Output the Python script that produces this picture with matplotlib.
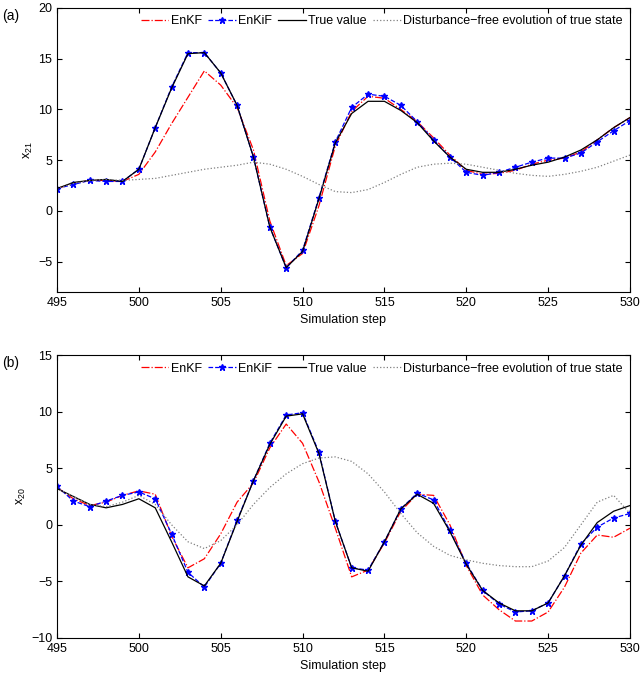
import matplotlib
matplotlib.use("Agg")
import matplotlib.pyplot as plt
import numpy as np

steps = list(range(495, 531))
true_a = [2.2,2.8,3.0,3.1,2.9,4.1,8.2,12.1,15.5,15.6,13.6,10.4,5.3,-1.6,-5.6,-4.0,1.2,6.7,9.6,10.8,10.8,9.9,8.7,6.9,5.3,4.1,3.8,3.8,4.1,4.5,4.8,5.3,6.0,7.0,8.2,9.2]
enkif_a = [2.2,2.6,3.0,2.9,2.9,4.1,8.2,12.2,15.6,15.6,13.6,10.4,5.3,-1.6,-5.6,-3.9,1.3,6.8,10.2,11.5,11.3,10.4,8.8,7.0,5.3,3.8,3.5,3.8,4.3,4.8,5.2,5.2,5.7,6.8,7.9,8.9]
enkf_a = [2.2,2.7,3.0,3.0,2.9,3.6,5.8,8.6,11.2,13.8,12.4,10.2,6.0,-1.0,-5.4,-4.2,0.5,6.4,9.8,11.3,11.1,10.0,8.8,7.2,5.5,4.0,3.6,3.7,4.0,4.6,5.0,5.2,5.8,7.0,8.2,9.2]
free_a = [2.2,2.7,3.0,3.1,3.0,3.1,3.2,3.5,3.8,4.1,4.3,4.5,4.8,4.6,4.1,3.4,2.6,1.9,1.8,2.1,2.8,3.6,4.3,4.6,4.7,4.6,4.3,4.0,3.7,3.5,3.4,3.6,3.9,4.3,4.9,5.5]

true_b = [3.2,2.5,1.8,1.5,1.8,2.3,1.5,-1.5,-4.6,-5.4,-3.4,0.3,3.9,7.1,9.6,9.8,6.3,0.3,-3.8,-4.1,-1.5,1.4,2.7,1.9,-0.6,-3.5,-5.8,-6.9,-7.6,-7.6,-6.9,-4.5,-1.8,0.2,1.2,1.7]
enkif_b = [3.4,2.1,1.6,2.1,2.6,2.9,2.3,-0.8,-4.2,-5.5,-3.4,0.4,3.9,7.2,9.7,9.9,6.4,0.3,-3.8,-4.0,-1.5,1.4,2.8,2.2,-0.5,-3.4,-5.8,-7.0,-7.7,-7.6,-6.9,-4.5,-1.7,-0.2,0.6,1.0]
enkf_b = [3.3,2.3,1.7,2.0,2.6,3.0,2.7,-1.0,-3.8,-3.0,-0.8,2.0,3.7,6.8,8.9,7.2,3.8,-0.3,-4.6,-4.0,-1.6,1.2,2.7,2.6,0.0,-3.6,-6.2,-7.5,-8.5,-8.5,-7.7,-5.5,-2.5,-0.9,-1.1,-0.3]
free_b = [3.2,2.5,1.8,1.6,2.0,2.6,1.8,0.0,-1.5,-2.1,-1.4,0.0,1.8,3.3,4.5,5.4,5.9,6.0,5.6,4.5,2.9,1.0,-0.7,-1.9,-2.7,-3.1,-3.4,-3.6,-3.7,-3.7,-3.2,-2.0,0.0,2.0,2.6,1.0]

plt.rcParams['font.family'] = ['Liberation Sans', 'DejaVu Sans']
fig = plt.figure(figsize=(6.41, 6.75), dpi=100)
W, H = 641, 675
panels = [
    (8, 292, true_a, enkif_a, enkf_a, free_a, (-8, 20), [-5,0,5,10,15,20], '$\\mathregular{x_{21}}$', '(a)'),
    (355, 638, true_b, enkif_b, enkf_b, free_b, (-10, 15), [-10,-5,0,5,10,15], '$\\mathregular{x_{20}}$', '(b)'),
]
for top, bot, tr, ki, kf, fr, ylim, yt, ylab, tag in panels:
    ax = fig.add_axes([57/W, 1-bot/H, (630-57)/W, (bot-top)/H])
    ax.plot(steps, kf, color='red', ls='-.', lw=0.9, label='EnKF')
    ax.plot(steps, ki, color='blue', ls='--', lw=0.9, marker='*', ms=5, label='EnKiF')
    ax.plot(steps, tr, color='black', ls='-', lw=0.9, label='True value')
    ax.plot(steps, fr, color='gray', ls=':', lw=0.9, label='Disturbance\u2212free evolution of true state')
    ax.set_xlim(495, 530)
    ax.set_ylim(*ylim)
    ax.set_xticks(range(495, 531, 5))
    ax.set_yticks(yt)
    ax.tick_params(direction='in', top=True, right=True, labelsize=9)
    ax.set_xlabel('Simulation step', fontsize=9)
    ax.set_ylabel(ylab, fontsize=9, labelpad=2)
    ax.legend(loc='upper right', ncol=4, frameon=False, fontsize=9, handlelength=2.2,
              handletextpad=0.2, columnspacing=0.5, borderaxespad=0.2)
    fig.text(2/W, 1-(top+8)/H, tag, fontsize=10, va='center')
fig.savefig('out.png', dpi=100)
